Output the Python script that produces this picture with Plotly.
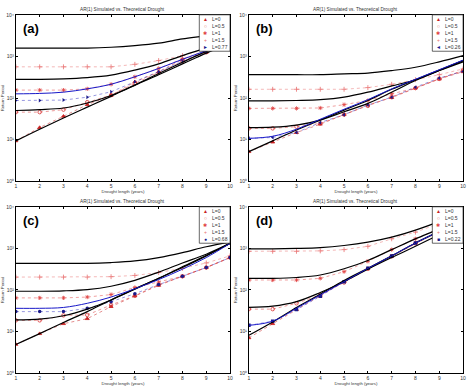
import plotly.graph_objects as go
import numpy as np

years = list(range(1, 11))
level_labels = ["L=0", "L=0.5", "L=1", "L=1.5"]
panel_letters = ["(a)", "(b)", "(c)", "(d)"]
extra_level = ["L=0.77", "L=0.26", "L=0.68", "L=0.22"]
title_text = "AR(1) Simulated vs. Theoretical Drought"
x_title = "Drought length (years)"
y_title = "Return Period"
ytick_exponents = [0, 1, 2, 3, 4]
ytick_labels = ["10\u2070", "10\u00b9", "10\u00b2", "10\u00b3", "10\u2074"]

# log10 of return period
# panel (a)
a_theory_L0 = [0.97, 1.25, 1.52, 1.78, 2.04, 2.31, 2.56, 2.82, 3.08, 3.32]
a_theory_L05 = [1.70, 1.72, 1.76, 1.88, 2.06, 2.31, 2.59, 2.86, 3.12, 3.34]
a_theory_L1 = [2.45, 2.45, 2.46, 2.49, 2.55, 2.67, 2.82, 3.02, 3.20, 3.38]
a_theory_L15 = [3.20, 3.20, 3.20, 3.20, 3.22, 3.26, 3.32, 3.42, 3.50, 3.59]
a_theory_extra = [2.10, 2.11, 2.14, 2.22, 2.33, 2.51, 2.71, 2.93, 3.14, 3.35]
a_sim_L0 = [0.97, 1.29, 1.56, 1.84, 2.06, 2.39, 2.63, 2.93, 3.10, 3.43]
a_sim_L05 = [1.66, 1.66, 1.72, 1.90, 2.07, 2.35, 2.61, 2.88, 3.10, 3.46]
a_sim_L1 = [2.19, 2.19, 2.19, 2.22, 2.33, 2.51, 2.71, 2.94, 3.14, 3.50]
a_sim_L15 = [2.75, 2.75, 2.75, 2.75, 2.75, 2.81, 2.90, 3.02, 3.18, 3.53]
a_sim_extra = [1.94, 1.94, 1.95, 2.02, 2.15, 2.39, 2.63, 2.88, 3.10, 3.50]
# panel (b)
b_theory_L0 = [0.71, 0.97, 1.23, 1.47, 1.71, 1.94, 2.21, 2.44, 2.67, 2.90]
b_theory_L05 = [1.29, 1.30, 1.35, 1.47, 1.67, 1.87, 2.14, 2.42, 2.66, 2.90]
b_theory_L1 = [1.93, 1.93, 1.94, 1.96, 2.02, 2.14, 2.29, 2.44, 2.66, 2.87]
b_theory_L15 = [2.56, 2.56, 2.56, 2.56, 2.58, 2.60, 2.66, 2.74, 2.87, 3.02]
b_theory_extra = [1.03, 1.08, 1.25, 1.49, 1.73, 1.96, 2.22, 2.45, 2.68, 2.91]
b_sim_L0 = [0.71, 0.94, 1.17, 1.37, 1.60, 1.83, 2.01, 2.24, 2.46, 2.63]
b_sim_L05 = [1.27, 1.27, 1.31, 1.39, 1.60, 1.81, 2.02, 2.24, 2.46, 2.66]
b_sim_L1 = [1.75, 1.75, 1.75, 1.76, 1.84, 1.94, 2.10, 2.24, 2.46, 2.66]
b_sim_L15 = [2.21, 2.21, 2.21, 2.21, 2.21, 2.25, 2.33, 2.44, 2.56, 2.70]
b_sim_extra = [1.03, 1.05, 1.17, 1.41, 1.60, 1.83, 2.02, 2.26, 2.48, 2.64]
# panel (c)
c_theory_L0 = [0.69, 0.95, 1.22, 1.48, 1.76, 2.02, 2.28, 2.56, 2.83, 3.12]
c_theory_L05 = [1.28, 1.30, 1.38, 1.54, 1.76, 2.03, 2.28, 2.54, 2.82, 3.13]
c_theory_L1 = [1.97, 1.97, 1.98, 2.01, 2.09, 2.23, 2.43, 2.65, 2.86, 3.12]
c_theory_L15 = [2.64, 2.64, 2.64, 2.64, 2.66, 2.70, 2.78, 2.90, 3.04, 3.15]
c_theory_extra = [1.56, 1.56, 1.58, 1.68, 1.83, 2.03, 2.25, 2.50, 2.78, 3.12]
c_sim_L0 = [0.69, 0.95, 1.19, 1.31, 1.60, 1.86, 2.11, 2.33, 2.54, 2.78]
c_sim_L05 = [1.27, 1.27, 1.39, 1.40, 1.64, 1.86, 2.13, 2.33, 2.54, 2.78]
c_sim_L1 = [1.81, 1.81, 1.81, 1.83, 1.89, 2.06, 2.19, 2.33, 2.54, 2.78]
c_sim_L15 = [2.31, 2.31, 2.31, 2.31, 2.32, 2.35, 2.42, 2.52, 2.65, 2.82]
c_sim_extra = [1.48, 1.48, 1.48, 1.56, 1.72, 1.91, 2.13, 2.33, 2.54, 2.78]
# panel (d)
d_theory_L0 = [0.91, 1.23, 1.58, 1.90, 2.23, 2.52, 2.82, 3.13, 3.41, 3.69]
d_theory_L05 = [1.58, 1.61, 1.72, 1.94, 2.20, 2.50, 2.78, 3.05, 3.33, 3.61]
d_theory_L1 = [2.28, 2.28, 2.30, 2.36, 2.51, 2.71, 2.97, 3.23, 3.47, 3.73]
d_theory_L15 = [2.99, 2.99, 3.00, 3.02, 3.07, 3.15, 3.27, 3.44, 3.65, 3.92]
d_theory_extra = [1.15, 1.25, 1.56, 1.88, 2.20, 2.52, 2.82, 3.13, 3.41, 3.69]
d_sim_L0 = [0.85, 1.19, 1.53, 1.85, 2.20, 2.51, 2.81, 3.13, 3.41, 3.69]
d_sim_L05 = [1.54, 1.54, 1.68, 1.88, 2.18, 2.51, 2.81, 3.12, 3.40, 3.70]
d_sim_L1 = [2.24, 2.24, 2.24, 2.28, 2.44, 2.69, 2.97, 3.23, 3.47, 3.73]
d_sim_L15 = [2.93, 2.93, 2.93, 2.94, 2.97, 3.05, 3.23, 3.39, 3.60, 3.85]
d_sim_extra = [1.15, 1.25, 1.53, 1.85, 2.20, 2.52, 2.82, 3.13, 3.41, 3.71]

panels = [
    ([a_theory_L0, a_theory_L05, a_theory_L1, a_theory_L15], a_theory_extra,
     [a_sim_L0, a_sim_L05, a_sim_L1, a_sim_L15], a_sim_extra),
    ([b_theory_L0, b_theory_L05, b_theory_L1, b_theory_L15], b_theory_extra,
     [b_sim_L0, b_sim_L05, b_sim_L1, b_sim_L15], b_sim_extra),
    ([c_theory_L0, c_theory_L05, c_theory_L1, c_theory_L15], c_theory_extra,
     [c_sim_L0, c_sim_L05, c_sim_L1, c_sim_L15], c_sim_extra),
    ([d_theory_L0, d_theory_L05, d_theory_L1, d_theory_L15], d_theory_extra,
     [d_sim_L0, d_sim_L05, d_sim_L1, d_sim_L15], d_sim_extra),
]

W, H = 473, 388
# plot-area pixel boxes (left, right, top, bottom)
boxes = [(15, 231, 12, 181), (250, 466, 12, 181), (15, 231, 207, 376), (250, 466, 207, 376)]

sim_symbols = ["triangle-up", "circle-open", "asterisk-open", "cross-thin-open"]
sim_glyphs = ["\u25b2", "\u25cb", "\u2731", "+"]
sim_colors = ["#c81e1e", "#d83030", "#e04040", "#e87070"]
extra_symbols = ["triangle-right", "triangle-left", "circle", "square"]
extra_glyphs = ["\u25ba", "\u25c4", "\u25cf", "\u25a0"]
extra_color = "#1a1a8a"

FONT = "Liberation Sans, Arial, sans-serif"
fig = go.Figure()

for i, (theory, th_extra, sims, sim_extra) in enumerate(panels):
    ax = "" if i == 0 else str(i + 1)
    xref, yref = "x" + ax, "y" + ax
    for k in range(4):
        fig.add_trace(go.Scatter(
            x=years, y=np.power(10.0, sims[k]), mode="lines+markers",
            name=level_labels[k], showlegend=False, xaxis=xref, yaxis=yref,
            line=dict(color=sim_colors[k], width=0.5, dash="dot"),
            marker=dict(symbol=sim_symbols[k], size=3.5, color=sim_colors[k],
                        line=dict(color=sim_colors[k], width=0.8))))
    fig.add_trace(go.Scatter(
        x=years, y=np.power(10.0, sim_extra), mode="lines+markers",
        name=extra_level[i], showlegend=False, xaxis=xref, yaxis=yref,
        line=dict(color="#3030c0", width=0.5, dash="dot"),
        marker=dict(symbol=extra_symbols[i], size=3.5, color=extra_color)))
    for k in range(4):
        fig.add_trace(go.Scatter(
            x=years, y=np.power(10.0, theory[k]), mode="lines", showlegend=False,
            xaxis=xref, yaxis=yref, line=dict(color="black", width=1.2, shape="spline")))
    fig.add_trace(go.Scatter(
        x=years, y=np.power(10.0, th_extra), mode="lines", showlegend=False,
        xaxis=xref, yaxis=yref, line=dict(color="#1818c8", width=1.0, shape="spline")))

    l, r, t, b = boxes[i]
    xd = [l / W, r / W]
    yd = [1 - b / H, 1 - t / H]
    common = dict(showline=True, linecolor="black", linewidth=0.8, mirror="allticks",
                  ticks="inside", ticklen=2, tickwidth=0.6, tickcolor="black",
                  showgrid=False, zeroline=False,
                  tickfont=dict(size=5, family=FONT, color="#333"))
    fig.layout["xaxis" + ax] = dict(domain=xd, range=[1, 10], dtick=1, tick0=1,
                                   anchor=yref, title=dict(text=x_title, standoff=1,
                                   font=dict(size=4.3, family=FONT, color="#333")), **common)
    fig.layout["yaxis" + ax] = dict(domain=yd, type="log", range=[0, 4], anchor=xref,
                                   tickvals=[10 ** e for e in ytick_exponents],
                                   ticktext=ytick_labels,
                                   title=dict(text=y_title, standoff=1,
                                   font=dict(size=4.3, family=FONT, color="#333")), **common)
    # panel title and letter
    fig.add_annotation(x=(l + r) / 2 / W, y=1 - (t - 5) / H, xref="paper", yref="paper",
                       text=title_text, showarrow=False, xanchor="center", yanchor="middle",
                       font=dict(size=4.7, family=FONT, color="#333"))
    fig.add_annotation(x=(l + 5) / W, y=1 - (t + 4) / H, xref="paper", yref="paper",
                       text="<b>%s</b>" % panel_letters[i], showarrow=False,
                       xanchor="left", yanchor="top",
                       font=dict(size=13, family=FONT, color="black"))
    # compact legend box (top-right, inside the axes)
    lw, lh = 31, 37
    fig.add_shape(type="rect", xref="paper", yref="paper",
                  x0=(r - lw) / W, x1=r / W, y0=1 - (t + lh) / H, y1=1 - t / H,
                  line=dict(color="black", width=0.6), fillcolor="white", layer="above")
    entries = [(sim_glyphs[k], sim_colors[k], level_labels[k]) for k in range(4)]
    entries.append((extra_glyphs[i], extra_color, extra_level[i]))
    for j, (g, c, lab) in enumerate(entries):
        yy = 1 - (t + 4.5 + j * 7) / H
        fig.add_annotation(x=(r - lw + 6) / W, y=yy, xref="paper", yref="paper",
                           text=g, showarrow=False, xanchor="center", yanchor="middle",
                           font=dict(size=5, family=FONT, color=c))
        fig.add_annotation(x=(r - lw + 11) / W, y=yy, xref="paper", yref="paper",
                           text=lab, showarrow=False, xanchor="left", yanchor="middle",
                           font=dict(size=5, family=FONT, color="#333"))

fig.update_layout(width=W, height=H, margin=dict(l=0, r=0, t=0, b=0),
                  paper_bgcolor="white", plot_bgcolor="white", showlegend=False)
fig.write_html("out.html")
